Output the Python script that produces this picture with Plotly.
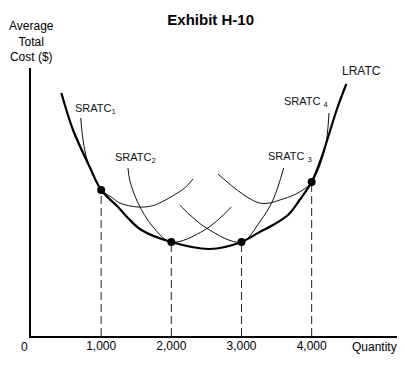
import plotly.graph_objects as go

# ---- data (quantity, average total cost in arbitrary units) ----
lratc_q = [433, 599, 837, 1000, 1240, 1382, 1573, 2000, 2546, 3000, 3259, 3449, 3662, 3828, 4000, 4138, 4361, 4494]
lratc_c = [243, 206, 169, 146, 129, 118, 106, 94, 87, 94, 104, 111, 121, 136, 154, 178, 227, 252]

sratc1_q = [708, 789, 1000, 1146, 1264, 1525, 1716, 1834, 2190, 2309]
sratc1_c = [218, 179, 146, 139, 133, 129, 130, 133, 148, 157]

sratc2_q = [1382, 1407, 1525, 1739, 2000, 2475, 2856]
sratc2_c = [168, 156, 133, 109, 94, 106, 129]

sratc3_q = [2119, 2499, 3000, 3259, 3449, 3601]
sratc3_c = [131, 108, 94, 114, 136, 168]

sratc4_q = [2665, 3259, 3591, 3828, 4000, 4185, 4247]
sratc4_c = [162, 133, 137, 144, 154, 186, 223]

tangent_q = [1000, 2000, 3000, 4000]
tangent_c = [146, 94, 94, 154]
tick_labels = ["1,000", "2,000", "3,000", "4,000"]

curve_labels = ["SRATC<sub>1</sub>", "SRATC<sub>2</sub>", "SRATC <sub>3</sub>", "SRATC <sub>4</sub>", "LRATC"]
label_q = [594, 1164, 3354, 3582, 4409]
label_c = [227, 178, 179, 234, 265]

FONT = "Arial, Liberation Sans, sans-serif"

fig = go.Figure()

# dashed drop lines
for q, c in zip(tangent_q, tangent_c):
    fig.add_trace(go.Scatter(x=[q, q], y=[0, c], mode="lines",
                             line=dict(color="#222", width=1, dash="8px,4px"),
                             hoverinfo="skip", showlegend=False))

for qs, cs in [(sratc1_q, sratc1_c), (sratc2_q, sratc2_c), (sratc3_q, sratc3_c), (sratc4_q, sratc4_c)]:
    fig.add_trace(go.Scatter(x=qs, y=cs, mode="lines",
                             line=dict(color="#111", width=1, shape="spline", smoothing=1.0),
                             hoverinfo="skip", showlegend=False))

fig.add_trace(go.Scatter(x=lratc_q, y=lratc_c, mode="lines",
                         line=dict(color="black", width=2.2, shape="spline", smoothing=1.0),
                         hoverinfo="skip", showlegend=False))

fig.add_trace(go.Scatter(x=tangent_q, y=tangent_c, mode="markers",
                         marker=dict(color="black", size=8),
                         hoverinfo="skip", showlegend=False))

for t, q, c in zip(curve_labels, label_q, label_c):
    fig.add_annotation(x=q, y=c, text=t, showarrow=False, xanchor="left", yanchor="middle",
                       font=dict(family=FONT, size=12 if t == "LRATC" else 11, color="#111"))

fig.add_annotation(x=0, y=0, text="0", showarrow=False, xanchor="center", yanchor="middle",
                   xshift=-7, yshift=-11, font=dict(family=FONT, size=12, color="black"))
fig.add_annotation(x=4898, y=0, text="Quantity", showarrow=False, xanchor="center", yanchor="middle",
                   yshift=-11, font=dict(family=FONT, size=12, color="black"))
fig.add_annotation(xref="paper", yref="paper", x=0.0, y=1.099, text="Average<br>Total<br>Cost ($)",
                   showarrow=False, xanchor="center", yanchor="middle", align="center",
                   font=dict(family=FONT, size=12, color="black"))

fig.update_layout(
    width=397, height=363,
    margin=dict(l=23, r=5, t=60, b=35),
    paper_bgcolor="white", plot_bgcolor="white",
    title=dict(text="<b>Exhibit H-10</b>", x=0.5106, xanchor="center", y=0.967, yanchor="middle",
               font=dict(family=FONT, size=15, color="black")),
    xaxis=dict(range=[0, 5259], showgrid=False, zeroline=False, showline=True,
               linecolor="black", linewidth=2, tickvals=tangent_q, ticktext=tick_labels,
               ticks="", ticklabelstandoff=-2, tickfont=dict(family=FONT, size=12, color="black")),
    yaxis=dict(range=[0, 268], showgrid=False, zeroline=False, showline=True,
               linecolor="black", linewidth=2, showticklabels=False, ticks=""),
    hovermode=False,
)

fig.write_html("out.html", config={"displayModeBar": False})
